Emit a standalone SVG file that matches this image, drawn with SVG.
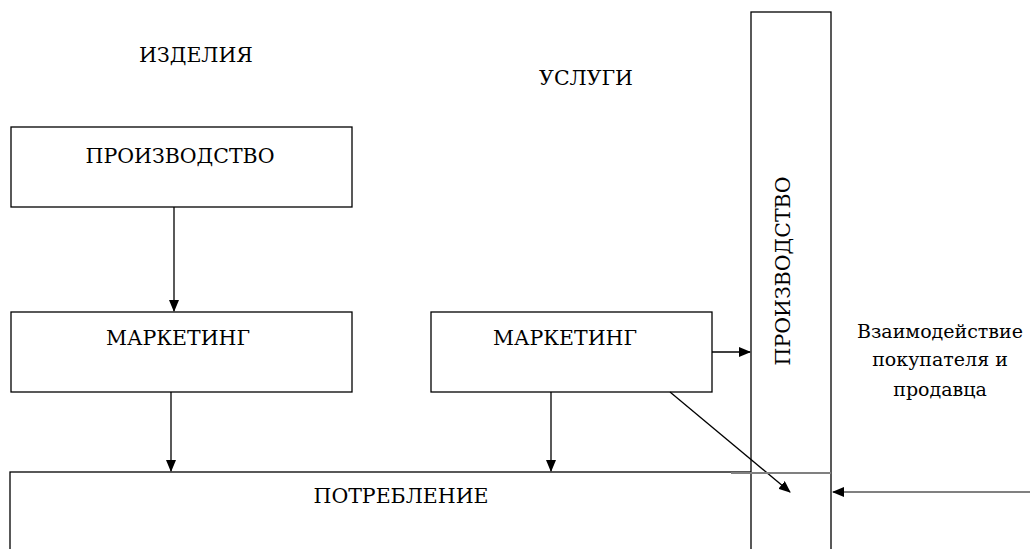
<svg xmlns="http://www.w3.org/2000/svg" width="1030" height="549" viewBox="0 0 1030 549">
<style>
.box{fill:#fff;stroke:#000;stroke-width:1.3}
.t{font-family:"DejaVu Serif","Liberation Serif",serif;font-size:20.5px;fill:#000;text-anchor:middle}
.s{font-size:19px}
.c{stroke:#000;stroke-width:1.3;fill:none}
.g{stroke:#808080;stroke-width:2;fill:none}
</style>
<defs>
<marker id="ah" markerWidth="12" markerHeight="10" refX="11" refY="5" orient="auto" markerUnits="userSpaceOnUse">
<path d="M0,0 L12,5 L0,10 Z" fill="#000"/>
</marker>
</defs>
<rect width="1030" height="549" fill="#fff"/>
<text class="t" x="196" y="62">ИЗДЕЛИЯ</text>
<text class="t" x="586" y="85">УСЛУГИ</text>
<g id="potreblenie">
<rect class="box" x="10" y="472" width="742" height="100"/>
<text class="t" x="401" y="503">ПОТРЕБЛЕНИЕ</text>
</g>
<g id="proizvodstvo-izd">
<rect class="box" x="11" y="127" width="341" height="80"/>
<text class="t" x="180" y="163">ПРОИЗВОДСТВО</text>
</g>
<g id="marketing-izd">
<rect class="box" x="11" y="312" width="341" height="80"/>
<text class="t" x="178" y="345">МАРКЕТИНГ</text>
</g>
<g id="marketing-usl">
<rect class="box" x="431" y="312" width="281" height="80"/>
<text class="t" x="565" y="345">МАРКЕТИНГ</text>
</g>
<g id="proizvodstvo-usl">
<rect class="box" x="751" y="12" width="80" height="560"/>
<text class="t" transform="translate(790,271) rotate(-90)">ПРОИЗВОДСТВО</text>
</g>
<g id="vzaimodeistvie">
<text class="t s" x="940" y="338">Взаимодействие</text>
<text class="t s" x="940" y="366">покупателя и</text>
<text class="t s" x="940" y="396">продавца</text>
</g>
<g id="connectors">
<line class="c" x1="174" y1="207" x2="174" y2="311" marker-end="url(#ah)"/>
<line class="c" x1="171" y1="392" x2="171" y2="471" marker-end="url(#ah)"/>
<line class="c" x1="551" y1="392" x2="551" y2="471" marker-end="url(#ah)"/>
<line class="c" x1="712" y1="352" x2="750" y2="352" marker-end="url(#ah)"/>
<line class="c" x1="670" y1="392" x2="790" y2="492" marker-end="url(#ah)"/>
<line class="g" x1="731" y1="473" x2="831" y2="473"/>
<line class="g" x1="1030" y1="492" x2="833" y2="492" marker-end="url(#ah)"/>
</g>
</svg>
